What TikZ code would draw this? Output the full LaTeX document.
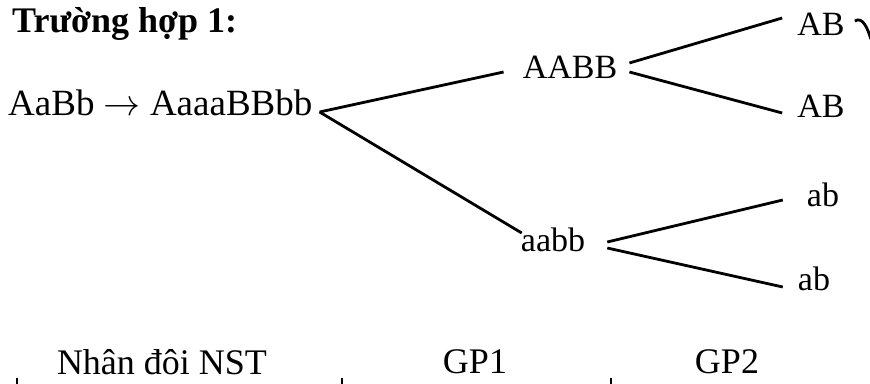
\RequirePackage{fix-cm}
\documentclass[tikz,border=0pt]{standalone}
\usepackage{fontspec}
\setmainfont{Liberation Serif}
\tikzset{
  gene/.style={inner sep=0pt,font=\fontsize{34}{36}\selectfont},
  stage/.style={inner sep=0pt,font=\fontsize{36}{38}\selectfont},
  branch/.style={line width=2.8pt}
}
\begin{document}
\begin{tikzpicture}[x=1pt,y=-1pt]
\useasboundingbox (0,0) rectangle (870,383);
\node[inner sep=0pt,anchor=west,font=\fontsize{36}{38}\selectfont\bfseries] (title) at (12,24) {Trường hợp 1:};
\node[gene,anchor=west,font=\fontsize{37}{39}\selectfont] (gen) at (8,103) {AaBb $\rightarrow$ AaaaBBbb};
\node[gene] (big) at (570,67) {AABB};
\node[gene] (ab1) at (821,24) {AB};
\node[gene] (ab2) at (821,106) {AB};
\node[gene] (small) at (553,240) {aabb};
\node[gene] (lo1) at (823,195) {ab};
\node[gene] (lo2) at (814,279) {ab};
\node[stage] (nst) at (162,362) {Nhân đôi NST};
\node[stage] (gp1) at (475,362) {GP1};
\node[stage] (gp2) at (727,362) {GP2};
\coordinate (fork) at ([xshift=7,yshift=-9]gen.east);
\draw[branch] (fork) -- ([xshift=-19,yshift=-5]big.west);
\draw[branch] (fork) -- ([xshift=1,yshift=7]small.west);
\draw[branch] ([xshift=12,yshift=4]big.east) -- ([xshift=-15,yshift=6]ab1.west);
\draw[branch] ([xshift=12,yshift=-5]big.east) -- ([xshift=-15,yshift=-7]ab2.west);
\draw[branch] ([xshift=22,yshift=-2]small.east) -- ([xshift=-24,yshift=-5]lo1.west);
\draw[branch] ([xshift=22,yshift=-8]small.east) -- ([xshift=-15,yshift=-8]lo2.west);
% cut-off bits at the edges
\begin{scope}
\clip (0,0) rectangle (870,383);
\draw[branch] ([xshift=10,yshift=3]ab1.east) .. controls +(8,-5) and +(-3,-10) .. +(16,18);
\foreach \tx in {17,342,611}
  \draw[line width=2.4pt] (\tx,378) -- (\tx,384);
\end{scope}
\end{tikzpicture}
\end{document}
